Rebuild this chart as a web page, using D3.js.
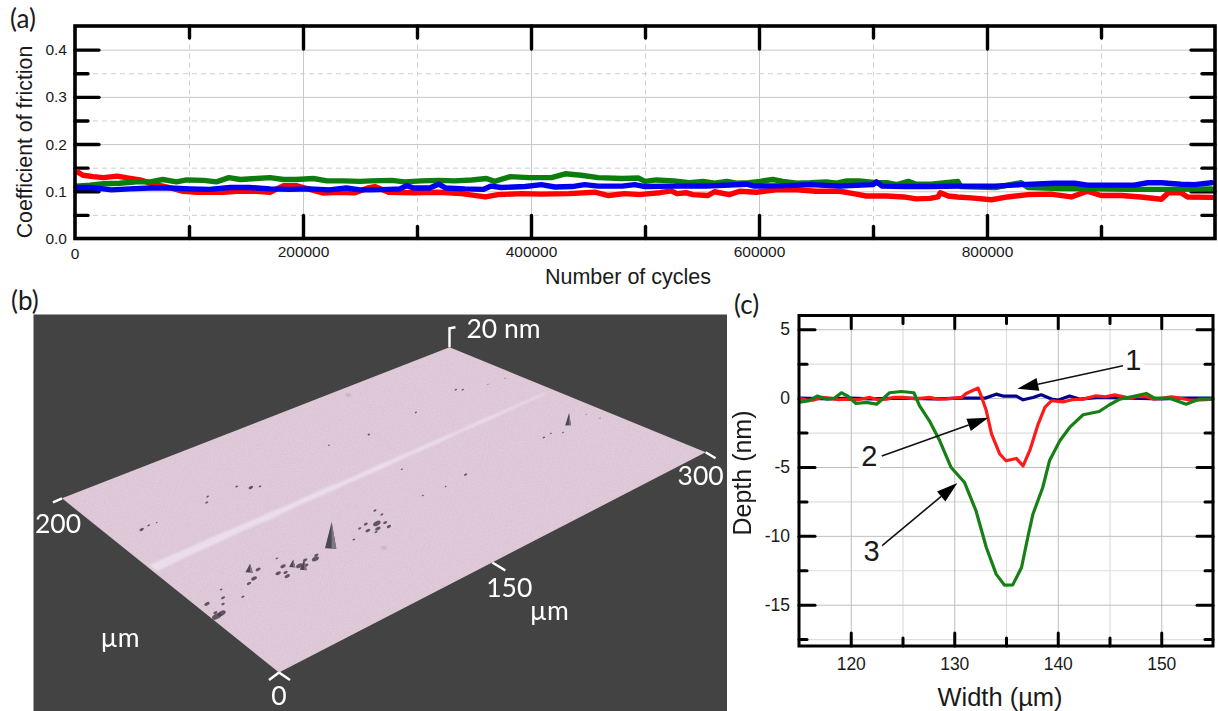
<!DOCTYPE html>
<html>
<head>
<meta charset="utf-8">
<script src="https://cdn.jsdelivr.net/npm/d3@7"></script>
<style>
    html, body { margin: 0; padding: 0; background: #fff; }
    svg { display: block; }
    text { font-family: "Liberation Sans", Arial, sans-serif; fill: #1a1a1a; }
    .lato { font-family: Lato, sans-serif; }
</style>
</head>
<body>
<script>
// (a) friction vs cycles. cycles in thousands
const redCycles = [2,7,16,25,37,47,57,69,82,95,107,130,142,159,171,183,194,206,218,229,245.6,257,263,275,298,319,339,360,371,392,409,433,456,468,482,495.5,504,513,523,528,536,542,555,561,574,583,598,615,633,650,671,683,694,712,727,738,750,757,759,766,774,786,804,818,836,856,874,888,900,918,935,953,959,970,976,997];
const redCof = [.141,.134,.131,.129,.132,.128,.124,.115,.108,.100,.098,.098,.100,.100,.098,.112,.112,.104,.096,.098,.097,.107,.110,.098,.097,.098,.095,.088,.093,.095,.094,.095,.098,.091,.095,.093,.095,.097,.101,.095,.097,.093,.091,.099,.093,.100,.098,.103,.103,.100,.100,.095,.090,.090,.088,.084,.085,.088,.097,.090,.088,.086,.082,.088,.093,.094,.088,.100,.091,.091,.088,.083,.097,.097,.088,.087];
const greenCycles = [1,13,25,39,54,66,77,89,98,113,124,135,145,159,171,183,194,209,221,235,250,260,278,289,304,319,333,348,361,368,382,398,418,430,444,459,480,494,500,510,525,539,551,561,572,580,591,601,612,621,633,645,659,668,677,688,703,712,721,731,738,751,774.4,777,807,830,836,865,894,924,947,970,997];
const greenCof = [.111,.113,.116,.117,.120,.120,.125,.120,.124,.123,.120,.129,.125,.127,.129,.125,.125,.127,.122,.122,.121,.122,.123,.120,.122,.123,.122,.124,.127,.121,.131,.129,.129,.137,.134,.129,.127,.128,.121,.124,.122,.118,.121,.117,.121,.117,.118,.121,.125,.121,.117,.118,.120,.117,.122,.122,.118,.118,.114,.121,.115,.115,.121,.110,.108,.118,.108,.106,.105,.104,.104,.104,.105];
const blueCycles = [1,13,25,32,48,66,83,101,118,136,153,171,188,206,223,238,250,260,275,285,291,297,311,319,325,342,358,365,374,395,409,421,436,447,459,480,491,500,525,554,589,596,627,645,671,700,703,708,729,750,777,807,830,859,877,888,912,929,941,953,970,982,997];
const blueCof = [.108,.108,.105,.103,.105,.107,.107,.105,.104,.108,.108,.105,.104,.105,.103,.107,.103,.103,.104,.105,.112,.107,.107,.115,.107,.105,.104,.111,.108,.110,.114,.109,.110,.114,.111,.111,.114,.110,.111,.111,.115,.111,.112,.114,.111,.114,.120,.111,.110,.110,.111,.111,.114,.117,.117,.113,.113,.113,.118,.118,.115,.114,.118];

// (c) depth profiles
const profile1Width = [115,118,120,122,125,128,131,133,134.05,134.7,136,136.65,137.6,138.4,139.4,140,141.15,142.1,144,147,150,152,155];
const profile1Depth = [0,-.05,0,-.05,0,-.05,0,0,.29,.15,.15,-.12,.05,.24,-.07,-.15,.15,-.07,.05,0,-.05,0,0];
const profile2Width = [114.9,115.7,116.35,117.2,118,118.8,119.6,120.7,121.85,122.6,123.45,124.2,125.05,126.3,127.6,128.4,129.25,130.7,131.15,132.3,132.6,133.1,133.6,134.4,135,136,136.65,137.3,138.1,138.75,139.4,140.5,141.4,142.45,143.7,144.6,145.5,146.95,147.7,148.55,149.3,150.15,151,151.75,152.6,153.4,155];
const profile2Depth = [0,-.12,-.15,.05,0,-.12,-.07,-.12,.05,-.12,-.07,.06,.05,-.05,.05,-.07,-.05,.05,.34,.73,.17,-.92,-2.6,-4.06,-4.55,-4.38,-4.92,-3.8,-1.9,-.68,-.19,-.27,-.12,-.07,.17,.1,.24,0,.12,.1,-.08,0,.1,0,-.12,-.15,-.07];
const profile3Width = [114.9,116,116.75,117.65,118.45,119.1,119.75,120.5,121.5,122.5,123.75,124.9,126.1,126.65,127.6,128.6,129.7,131,132.1,133.1,134.05,134.85,135.65,136.5,137.1,137.6,138.55,139.2,140.2,141.15,142.45,144,145,146,147.25,148.55,149.35,150.8,152.4,153.7,155];
const profile3Depth = [-.31,-.19,.15,-.07,0,.39,.12,-.39,-.31,-.44,.39,.48,.39,-.56,-1.65,-3.1,-5.04,-6.13,-8.18,-10.85,-12.78,-13.58,-13.56,-12.3,-10.12,-8.43,-6.49,-4.55,-3.1,-2.13,-1.21,-.97,-.48,-.07,.12,.34,0,0,-.44,-.07,-.07];
// arrow start and end [width, depth, width, depth] and where each number sits
const calloutNames = ["1", "2", "3"];
const calloutArrows = [[146.3,2.35,136.1,.68],[123,-4.2,133.3,-1.43],[123,-10.73,130.3,-6.16]];
const calloutAt = [[147.3,2.7],[121.8,-4.3],[122,-11.2]];

// (b) surface map, all in um on the 300 x 200 scan
const ridgeX = [2,15,30,50,70,90,110,130,150,170,190,210,230,250,270,294];
const ridgeLow = [115,115.5,116,116,116.5,116,117,116.5,117,116.5,117.5,117,118,117.5,118,118.5];
const ridgeHigh = [122,122,122,122,121.5,121.5,121,121.5,120.5,121,120.5,120.5,120,120.5,120,119.8];
// x, y, size
const pits = [[3.4,61.8,3.4],[7.4,62.3,3],[5,65,1.5],[6.2,74.2,2],[17,73.1,1.5],[13.4,68.6,1.3],[26.5,67,1.2],[21,79.8,.9],[49.6,81.9,1.8],[42.4,76.6,2.2],[37.1,74.6,1.6],[56.2,72,2],[62.6,75.5,2],[58.4,66.6,2],[60,70,1.6],[73,68,1.8],[76.1,72.3,1.6],[81.2,69.5,2.6],[84,72,1.6],[64.8,83.6,.9],[70,70,2.4],[121.6,72.2,1.8],[119.6,76.8,1.2],[130,74.4,2.8],[127,70,2],[134,72,1.5],[124,68,1.2],[132.9,67.5,1.6],[137.9,85.3,1.2],[138.1,79.6,1.2],[109.8,70.3,1],[125,78,1.5],[20.2,151.2,1.6],[26.2,152.1,1],[31.9,151.7,.6],[69,150.8,1.1],[73.5,155.2,1],[93.9,153.4,1],[99.8,147.9,1.7],[104.8,145.7,.9],[165.6,155.5,.7],[191,150.3,.9],[228.3,152.2,.8],[263.6,157.6,.9],[266.4,155,.9],[280.8,150.1,.5],[292.6,149,.5],[257.2,80.5,.9],[263,81.2,.7],[268,77.1,.7],[290.9,83.5,.5],[292.5,74.3,.5],[178.3,108.8,.8],[199.7,80.1,1.2],[183.3,78,.7],[167.8,79.4,.8]];
// x, y, height in nm, width in um
const spikes = [[94.2,71.8,28,4.5],[275.5,81.2,13,2.2],[43.8,82.8,9,3],[66,71.5,8,2.5],[69.1,65.5,11,2.8]];
const smudges = [[116.9,52.9],[214.6,192.6]];
const surfaceLabels = ["0", "150", "300", "200", "20 nm", "\u00b5m", "\u00b5m"];

let width = 1218, height = 711;
let svg = d3.select("body").append("svg").attr("width", width).attr("height", height);
let defs = svg.append("defs");
defs.append("filter").attr("id", "soft").append("feGaussianBlur").attr("stdDeviation", 0.55);
defs.append("filter").attr("id", "softer").append("feGaussianBlur").attr("stdDeviation", 0.9);
let grain = defs.append("filter").attr("id", "grain").attr("x", 0).attr("y", 0).attr("width", 1).attr("height", 1);
grain.append("feTurbulence").attr("type", "fractalNoise").attr("baseFrequency", 0.7).attr("numOctaves", 2).attr("seed", 4);
grain.append("feColorMatrix").attr("values", "0 0 0 0 0.45  0 0 0 0 0.3  0 0 0 0 0.42  0 0 0 0.3 -0.08");
grain.append("feComposite").attr("in2", "SourceGraphic").attr("operator", "in");

// draws grid + double sided ticks for a panel
function panelAxes(g, x, y, o) {
    let x0 = x.range()[0], x1 = x.range()[1], y0 = y.range()[0], y1 = y.range()[1];
    let w = x1 - x0, h = y0 - y1;
    let grid = g.append("g");
    function gridLines(axis, at, cls) {
        let a = grid.append("g").attr("transform", at).call(axis);
        a.select(".domain").remove();
        a.selectAll("text").remove();
        a.selectAll("line").attr("stroke", cls.color).attr("stroke-width", cls.width).attr("stroke-dasharray", cls.dash || null);
    }
    gridLines(d3.axisBottom(x).tickValues(o.xMinor).tickSize(-h), `translate(0,${y0})`, o.minorGrid);
    gridLines(d3.axisLeft(y).tickValues(o.yMinor).tickSize(-w), `translate(${x0},0)`, o.minorGrid);
    gridLines(d3.axisBottom(x).tickValues(o.xMajor).tickSize(-h), `translate(0,${y0})`, o.majorGrid);
    gridLines(d3.axisLeft(y).tickValues(o.yMajor).tickSize(-w), `translate(${x0},0)`, o.majorGrid);

    function ticks(axis, at, keepText) {
        let a = g.append("g").attr("transform", at).call(axis);
        a.select(".domain").remove();
        a.selectAll("line").attr("stroke", "#000").attr("stroke-width", o.tickWidth).attr("stroke-linecap", "round");
        if (!keepText) a.selectAll("text").remove();
        else a.selectAll("text").attr("font-size", o.labelSize).attr("font-family", null).style("fill", "#1a1a1a");
    }
    ticks(d3.axisBottom(x).tickValues(o.xMinor).tickSize(-o.xLen[1]), `translate(0,${y0})`);
    ticks(d3.axisTop(x).tickValues(o.xMinor).tickSize(-o.xLen[1]), `translate(0,${y1})`);
    ticks(d3.axisLeft(y).tickValues(o.yMinor).tickSize(-o.yLen[1]), `translate(${x0},0)`);
    ticks(d3.axisRight(y).tickValues(o.yMinor).tickSize(-o.yLen[1]), `translate(${x1},0)`);
    ticks(d3.axisTop(x).tickValues(o.xMajor).tickSize(-o.xLen[0]), `translate(0,${y1})`);
    ticks(d3.axisRight(y).tickValues(o.yMajor).tickSize(-o.yLen[0]), `translate(${x1},0)`);

    let b = d3.axisBottom(x).tickValues(o.xMajor).tickSize(-o.xLen[0]).tickPadding(o.xPad).tickFormat(o.xFormat);
    let l = d3.axisLeft(y).tickValues(o.yMajor).tickSize(-o.yLen[0]).tickPadding(o.yPad).tickFormat(o.yFormat);
    ticks(b, `translate(0,${y0})`, true);
    ticks(l, `translate(${x0},0)`, true);
}

function frame(g, x, y, sw) {
    g.append("rect")
        .attr("x", x.range()[0]).attr("y", y.range()[1])
        .attr("width", x.range()[1] - x.range()[0]).attr("height", y.range()[0] - y.range()[1])
        .attr("fill", "none").attr("stroke", "#000").attr("stroke-width", sw);
}

function letter(txt, px, py) {
    svg.append("text").attr("class", "lato").attr("x", px).attr("y", py).attr("font-size", 26).text(txt);
}

// panel (a)
{
    let g = svg.append("g");
    let x = d3.scaleLinear().domain([0, 1000]).range([75, 1215]);
    let y = d3.scaleLinear().domain([0, 0.45]).range([238.5, 26]);
    panelAxes(g, x, y, {
        xMajor: [200, 400, 600, 800], xMinor: [100, 300, 500, 700, 900],
        yMajor: [0.1, 0.2, 0.3, 0.4], yMinor: [0.05, 0.15, 0.25, 0.35],
        xFormat: d => String(d * 1000), yFormat: d3.format(".1f"),
        xLen: [23, 12], yLen: [24, 13], tickWidth: 3.4, labelSize: 15.5, xPad: 7, yPad: 8,
        majorGrid: { color: "#c8c8c8", width: 1 }, minorGrid: { color: "#cfcfcf", width: 1, dash: "5 4" }
    });
    // zero labels sit on the frame corners
    g.append("text").attr("x", 75).attr("y", 259).attr("text-anchor", "middle").attr("font-size", 15.5).text("0");
    g.append("text").attr("x", 67).attr("y", y(0) + 5).attr("text-anchor", "end").attr("font-size", 15.5).text("0.0");

    let line = d3.line().x(d => x(d[0])).y(d => y(d[1])).curve(d3.curveLinear);
    [[redCycles, redCof, "#ff0000"], [greenCycles, greenCof, "#0c7d0c"], [blueCycles, blueCof, "#0000ee"]].forEach(s => {
        g.append("path").datum(d3.zip(s[0], s[1])).attr("d", line)
            .attr("fill", "none").attr("stroke", s[2]).attr("stroke-width", 5.4)
            .attr("stroke-linejoin", "round").attr("stroke-linecap", "round");
    });
    frame(g, x, y, 3.6);
    g.append("text").attr("x", 628).attr("y", 284).attr("text-anchor", "middle").attr("font-size", 21.5).text("Number of cycles");
    g.append("text").attr("transform", "translate(32,142) rotate(-90)").attr("text-anchor", "middle").attr("font-size", 21.3).text("Coefficient of friction");
}
letter("(a)", 10, 28);
letter("(b)", 11, 310);
letter("(c)", 734, 314);

// panel (b), the scan drawn on a tilted quad
{
    let g = svg.append("g");
    g.append("rect").attr("x", 33.5).attr("y", 314.5).attr("width", 693.5).attr("height", 396.5).attr("fill", "#434343");

    let sx = d3.scaleLinear().domain([0, 300]).range([0, 1]);
    let sy = d3.scaleLinear().domain([0, 200]).range([0, 1]);
    let sz = d3.scaleLinear().domain([0, 20]).range([0, 19]);
    let corner = { o: [279, 672.5], r: [705.6, 452.3], l: [62, 498.3], t: [449.5, 347.3] };
    function project(u, v) {
        let s = sx(u), t = sy(v);
        return [0, 1].map(i => corner.o[i] * (1 - s) * (1 - t) + corner.r[i] * s * (1 - t) + corner.l[i] * (1 - s) * t + corner.t[i] * s * t);
    }
    let path = d3.line();
    let outline = [[0, 0], [300, 0], [300, 200], [0, 200]].map(d => project(d[0], d[1]));
    g.append("path").attr("d", path(outline) + "Z").attr("fill", "#e1ccda");
    g.append("path").attr("d", path(outline) + "Z").attr("fill", "#fff").attr("filter", "url(#grain)");

    let band = ridgeX.map((d, i) => project(d, ridgeLow[i])).concat(ridgeX.map((d, i) => project(d, ridgeHigh[i])).reverse());
    g.append("path").attr("d", path(band) + "Z").attr("fill", "#ecdee8").attr("filter", "url(#softer)");

    let marks = g.append("g").attr("filter", "url(#soft)");
    marks.selectAll(".smudge").data(smudges).join("ellipse").attr("class", "smudge")
        .attr("cx", d => project(d[0], d[1])[0]).attr("cy", d => project(d[0], d[1])[1])
        .attr("rx", 3).attr("ry", 2).attr("fill", "#8f7f8d").attr("opacity", 0.22);

    marks.selectAll(".pit").data(pits).join("ellipse").attr("class", "pit")
        .attr("cx", d => project(d[0], d[1])[0]).attr("cy", d => project(d[0], d[1])[1])
        .attr("rx", d => d[2] * 1.45).attr("ry", d => d[2] * 0.8)
        .attr("transform", d => { let p = project(d[0], d[1]); return `rotate(-27 ${p[0]} ${p[1]})`; })
        .attr("fill", "#453c48").attr("opacity", 0.82);

    spikes.forEach(d => {
        let a = project(d[0] - d[3] / 2, d[1] + d[3] / 2), b = project(d[0] + d[3] / 2, d[1] - d[3] / 2), c = project(d[0], d[1]);
        let top = [c[0] + 1, c[1] - sz(d[2])];
        marks.append("path").attr("d", path([a, top, b]) + "Z").attr("fill", "#4d4750");
        marks.append("path").attr("d", path([[c[0] + 1, c[1]], top, b]) + "Z").attr("fill", "#7f7883");
    });

    // white scale marks on the corners
    let white = g.append("g").attr("stroke", "#fff").attr("stroke-width", 2.4).attr("fill", "none");
    function tick(u, v, dx, dy) {
        let p = project(u, v);
        white.append("line").attr("x1", p[0]).attr("y1", p[1]).attr("x2", p[0] + dx).attr("y2", p[1] + dy);
    }
    tick(0, 0, -10, 7.5);
    tick(0, 0, 11, 7.5);
    tick(150, 0, 13, 8);
    tick(300, 0, 10, 6);
    tick(0, 200, -9, 4);
    let tp = project(300, 200);
    white.append("path").attr("d", path([tp, [tp[0], tp[1] - sz(20)], [tp[0] + 6, tp[1] - sz(20) - 1]]));

    let at = [
        [project(0, 0), 0, 26],
        [project(150, 0), 17, 28],
        [project(300, 0), -5, 26],
        [project(0, 200), -4, 28],
        [tp, 54, -16],
        [project(0, 0), -159, -32],
        [project(150, 0), 57, 51]
    ];
    surfaceLabels.forEach((s, i) => {
        g.append("text").attr("class", "lato").style("fill", "#fff").attr("font-size", 26.5)
            .attr("text-anchor", "middle").attr("dominant-baseline", "middle")
            .attr("x", at[i][0][0] + at[i][1]).attr("y", at[i][0][1] + at[i][2]).text(s);
    });
}

// panel (c)
{
    let g = svg.append("g");
    let x = d3.scaleLinear().domain([115, 155]).range([799, 1213]);
    let y = d3.scaleLinear().domain([-18, 6]).range([646, 315.5]);
    panelAxes(g, x, y, {
        xMajor: [120, 130, 140, 150], xMinor: [125, 135, 145],
        yMajor: [-15, -10, -5, 0, 5], yMinor: [-17.5, -12.5, -7.5, -2.5, 2.5],
        xFormat: d => String(d), yFormat: d => String(d),
        xLen: [13, 8], yLen: [16, 8], tickWidth: 3, labelSize: 17.5, xPad: 12, yPad: 9,
        majorGrid: { color: "#bdbdbd", width: 1 }, minorGrid: { color: "#dedede", width: 1.2 }
    });
    let line = d3.line().x(d => x(d[0])).y(d => y(d[1]));
    [[profile1Width, profile1Depth, "#00008b"], [profile2Width, profile2Depth, "#ff1a1a"], [profile3Width, profile3Depth, "#168016"]].forEach(s => {
        g.append("path").datum(d3.zip(s[0], s[1])).attr("d", line)
            .attr("fill", "none").attr("stroke", s[2]).attr("stroke-width", 3.2).attr("stroke-linejoin", "round");
    });
    frame(g, x, y, 3);

    calloutNames.forEach((name, i) => {
        let a = calloutArrows[i];
        let p0 = [x(a[0]), y(a[1])], p1 = [x(a[2]), y(a[3])];
        let ang = Math.atan2(p1[1] - p0[1], p1[0] - p0[0]);
        let len = 21, wid = 6.5;
        let base = [p1[0] - len * Math.cos(ang), p1[1] - len * Math.sin(ang)];
        let nx = -Math.sin(ang) * wid, ny = Math.cos(ang) * wid;
        g.append("line").attr("x1", p0[0]).attr("y1", p0[1]).attr("x2", base[0]).attr("y2", base[1])
            .attr("stroke", "#111").attr("stroke-width", 1.6);
        g.append("path").attr("d", d3.line()([p1, [base[0] + nx, base[1] + ny], [base[0] - nx, base[1] - ny]]) + "Z").attr("fill", "#000");
        g.append("text").attr("x", x(calloutAt[i][0])).attr("y", y(calloutAt[i][1]) + 1)
            .attr("text-anchor", "middle").attr("dominant-baseline", "middle").attr("font-size", 29)
            .attr("stroke", "#fff").attr("stroke-width", 8).attr("paint-order", "stroke").text(name);
    });

    g.append("text").attr("x", 1000).attr("y", 706).attr("text-anchor", "middle").attr("font-size", 25.5).text("Width (\u00b5m)");
    g.append("text").attr("transform", "translate(751,473) rotate(-90)").attr("text-anchor", "middle").attr("font-size", 25).text("Depth (nm)");
}
</script>
</body>
</html>
